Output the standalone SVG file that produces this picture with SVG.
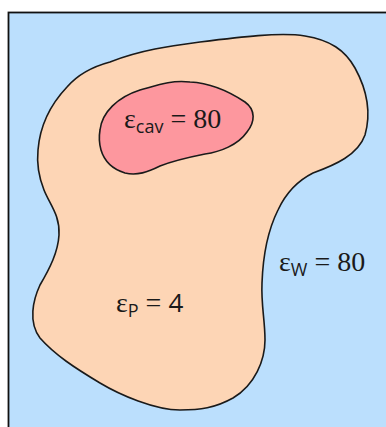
<svg xmlns="http://www.w3.org/2000/svg" width="386" height="427" viewBox="0 0 386 427">
<style>
.ln{stroke:#1a1a1a;stroke-width:1.6;stroke-linejoin:round}
.t{font-family:"Liberation Serif",serif;font-size:28px;fill:#1a1a1a}
.s{font-family:"Open Sans","Liberation Sans",sans-serif;font-size:18px}
.n{font-family:"Open Sans","Liberation Sans",sans-serif;font-size:26px}
</style>
<g id="water">
<rect x="8.5" y="12.5" width="390" height="430" fill="#bbdffd" stroke="#111" stroke-width="1.8"/>
</g>
<g id="protein">
<path class="ln" fill="#fdd5b5" d="M67,87 C80,72 95,66 110,62 C140,50 170,46 200,42 C240,37 280,32 305,36 C330,40 345,50 355,68 C366,88 372,110 365,135 C358,155 335,165 313,173 C295,182 285,195 278,210 C268,230 263,255 262,283 C261,305 265,320 265,340 C265,360 255,385 233,398 C215,408 200,410 180,410 C155,410 120,395 100,383 C75,368 55,355 40,338 C28,322 33,300 40,285 C50,268 58,252 59,235 C60,215 50,205 44,190 C38,175 37,160 38,150 C40,125 50,105 67,87 Z"/>
</g>
<g id="cavity">
<path class="ln" fill="#fd979e" d="M100,130 C102,112 118,97 140,90 C158,85 170,80 190,82 C210,83 230,92 245,102 C256,110 255,122 247,132 C238,145 220,152 205,154 C190,157 175,160 160,166 C148,172 137,176 125,173 C112,169 104,160 101,150 C99,143 99,136 100,130 Z"/>
</g>
<g id="labels">
<text class="t" x="124" y="128">ε<tspan class="s" dy="5">cav</tspan><tspan dy="-5"> = 80</tspan></text>
<text class="t" x="279" y="271">ε<tspan class="s" dy="5">W</tspan><tspan dy="-5"> = 80</tspan></text>
<text class="t" x="116" y="312">ε<tspan class="s" dy="5">P</tspan><tspan dy="-5"> = </tspan><tspan class="n">4</tspan></text>
</g>
</svg>
